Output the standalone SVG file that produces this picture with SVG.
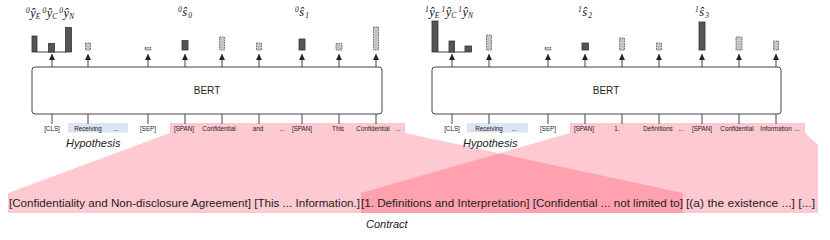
<svg xmlns="http://www.w3.org/2000/svg" width="830" height="240" viewBox="0 0 830 240">
<defs>
<style>
.pink{fill:#ff3654;opacity:0.27}
.lav{fill:#dde4f4}
.box{fill:#fff;stroke:#444;stroke-width:1}
.bert{font-family:"Liberation Sans",Arial,sans-serif;font-size:10px;fill:#222;text-anchor:middle}
.tok{font-family:"Liberation Sans",Arial,sans-serif;font-size:6.3px;fill:#222;text-anchor:middle}
.lbl{font-family:"Liberation Sans",Arial,sans-serif;font-size:11px;font-style:italic;fill:#222}
.ctr{font-family:"Liberation Sans",Arial,sans-serif;font-size:10px;fill:#222}
.math{font-family:"Liberation Serif","Times New Roman",serif;font-style:italic;font-size:12.5px;fill:#111}
.sm{font-size:7.5px}
.tick{stroke:#444;stroke-width:1}
.solid{fill:#555;stroke:#333;stroke-width:0.8}
.dash{fill:#c4c4c4;stroke:#666;stroke-width:0.9;stroke-dasharray:1.6 0.9}
.base{stroke:#444;stroke-width:1}
</style>
<marker id="ah" viewBox="0 0 6 6" refX="6" refY="3" markerWidth="6" markerHeight="6" markerUnits="userSpaceOnUse" orient="auto">
<path d="M0,0 L6,3 L0,6 Z" fill="#222"/>
</marker>
</defs>

<g id="highlights">
<polygon class="pink" points="170,123 405,123 405,133 683,193 683,213 8,213 8,193 170,133"/>
<polygon class="pink" points="570,123 805,123 805,133 818,145 818,213 361,213 361,193 570,133"/>
<rect class="lav" x="68" y="123" width="60" height="9.5"/>
<rect class="lav" x="467" y="123" width="61" height="9.5"/>
</g>

<g id="connectors">
<g class="tick">
<line x1="52" y1="114" x2="52" y2="124"/><line x1="88" y1="114" x2="88" y2="124"/><line x1="148" y1="114" x2="148" y2="124"/><line x1="185" y1="114" x2="185" y2="124"/><line x1="222" y1="114" x2="222" y2="124"/><line x1="259" y1="114" x2="259" y2="124"/><line x1="302" y1="114" x2="302" y2="124"/><line x1="339" y1="114" x2="339" y2="124"/><line x1="376" y1="114" x2="376" y2="124"/>
<line x1="452" y1="114" x2="452" y2="124"/><line x1="489" y1="114" x2="489" y2="124"/><line x1="548" y1="114" x2="548" y2="124"/><line x1="585" y1="114" x2="585" y2="124"/><line x1="622" y1="114" x2="622" y2="124"/><line x1="659" y1="114" x2="659" y2="124"/><line x1="702" y1="114" x2="702" y2="124"/><line x1="739" y1="114" x2="739" y2="124"/><line x1="776" y1="114" x2="776" y2="124"/>
</g>
<g class="tick" marker-end="url(#ah)">
<line x1="52" y1="67" x2="52" y2="54"/><line x1="88" y1="67" x2="88" y2="54"/><line x1="148" y1="67" x2="148" y2="54"/><line x1="185" y1="67" x2="185" y2="54"/><line x1="222" y1="67" x2="222" y2="54"/><line x1="259" y1="67" x2="259" y2="54"/><line x1="302" y1="67" x2="302" y2="54"/><line x1="339" y1="67" x2="339" y2="54"/><line x1="376" y1="67" x2="376" y2="54"/>
<line x1="452" y1="67" x2="452" y2="54"/><line x1="489" y1="67" x2="489" y2="54"/><line x1="548" y1="67" x2="548" y2="54"/><line x1="585" y1="67" x2="585" y2="54"/><line x1="622" y1="67" x2="622" y2="54"/><line x1="659" y1="67" x2="659" y2="54"/><line x1="702" y1="67" x2="702" y2="54"/><line x1="739" y1="67" x2="739" y2="54"/><line x1="776" y1="67" x2="776" y2="54"/>
</g>
</g>

<g id="bert0">
<rect class="box" x="32" y="67" width="350" height="47" rx="3"/>
<text class="bert" x="207" y="93.5">BERT</text>
</g>
<g id="bert1">
<rect class="box" x="432" y="67" width="349" height="47" rx="3"/>
<text class="bert" x="606" y="93.5">BERT</text>
</g>

<g id="outputs0">
<line class="base" x1="37" y1="52" x2="66" y2="52"/>
<rect class="solid" x="32" y="36" width="5" height="16"/>
<rect class="solid" x="48.5" y="43.5" width="6" height="8.5"/>
<rect class="solid" x="65.5" y="27.5" width="6" height="24.5"/>
<rect class="dash" x="85.5" y="43" width="5" height="7"/>
<rect class="dash" x="145" y="47.5" width="6" height="2.5"/>
<rect class="solid" x="182" y="40.5" width="6" height="9.5"/>
<rect class="dash" x="219.5" y="37" width="5" height="13"/>
<rect class="dash" x="256.5" y="43" width="5" height="7"/>
<rect class="solid" x="299" y="39" width="6" height="11"/>
<rect class="dash" x="336" y="43.5" width="6" height="6.5"/>
<rect class="dash" x="373.5" y="27" width="5" height="23"/>
<text class="math" x="26" y="17"><tspan class="sm" dy="-4">0</tspan><tspan dx="0.5" dy="4">ŷ</tspan><tspan class="sm" dy="2">E</tspan><tspan class="sm" dx="2" dy="-6">0</tspan><tspan dx="0.5" dy="4">ŷ</tspan><tspan class="sm" dy="2">C</tspan><tspan class="sm" dx="2" dy="-6">0</tspan><tspan dx="0.5" dy="4">ŷ</tspan><tspan class="sm" dy="2">N</tspan></text>
<text class="math" x="178" y="16"><tspan class="sm" dy="-4">0</tspan><tspan dx="0.5" dy="4">ŝ</tspan><tspan class="sm" dx="1" dy="2">0</tspan></text>
<text class="math" x="295" y="16"><tspan class="sm" dy="-4">0</tspan><tspan dx="0.5" dy="4">ŝ</tspan><tspan class="sm" dx="1" dy="2">1</tspan></text>
</g>

<g id="outputs1">
<line class="base" x1="438" y1="52" x2="465" y2="52"/>
<rect class="solid" x="432" y="21" width="6" height="31"/>
<rect class="solid" x="449" y="41" width="5.5" height="11"/>
<rect class="solid" x="465" y="46" width="6.5" height="6"/>
<rect class="dash" x="486.5" y="35" width="5" height="15"/>
<rect class="dash" x="545" y="47.5" width="6" height="2.5"/>
<rect class="solid" x="582" y="43" width="6.5" height="7"/>
<rect class="dash" x="619.5" y="38" width="5" height="12"/>
<rect class="dash" x="656.5" y="43" width="5" height="7"/>
<rect class="solid" x="699" y="22" width="6" height="28"/>
<rect class="dash" x="736" y="37" width="6" height="13"/>
<rect class="dash" x="773.5" y="41" width="5" height="9"/>
<text class="math" x="425" y="16"><tspan class="sm" dy="-4">1</tspan><tspan dx="0.5" dy="4">ŷ</tspan><tspan class="sm" dy="2">E</tspan><tspan class="sm" dx="2" dy="-6">1</tspan><tspan dx="0.5" dy="4">ŷ</tspan><tspan class="sm" dy="2">C</tspan><tspan class="sm" dx="2" dy="-6">1</tspan><tspan dx="0.5" dy="4">ŷ</tspan><tspan class="sm" dy="2">N</tspan></text>
<text class="math" x="578" y="16"><tspan class="sm" dy="-4">1</tspan><tspan dx="0.5" dy="4">ŝ</tspan><tspan class="sm" dx="1" dy="2">2</tspan></text>
<text class="math" x="695" y="16"><tspan class="sm" dy="-4">1</tspan><tspan dx="0.5" dy="4">ŝ</tspan><tspan class="sm" dx="1" dy="2">3</tspan></text>
</g>

<g id="tokens0">
<text class="tok" x="52" y="130.5">[CLS]</text>
<text class="tok" x="88" y="130.5">Receiving</text>
<text class="tok" x="116" y="130.5">...</text>
<text class="tok" x="148" y="130.5">[SEP]</text>
<text class="tok" x="184" y="130.5">[SPAN]</text>
<text class="tok" x="219" y="130.5">Confidential</text>
<text class="tok" x="258" y="130.5">and</text>
<text class="tok" x="282" y="130.5">...</text>
<text class="tok" x="302" y="130.5">[SPAN]</text>
<text class="tok" x="338" y="130.5">This</text>
<text class="tok" x="373" y="130.5">Confidential</text>
<text class="tok" x="398" y="130.5">...</text>
<text class="lbl" x="66" y="147">Hypothesis</text>
</g>

<g id="tokens1">
<text class="tok" x="452" y="130.5">[CLS]</text>
<text class="tok" x="489" y="130.5">Receiving</text>
<text class="tok" x="514" y="130.5">...</text>
<text class="tok" x="548" y="130.5">[SEP]</text>
<text class="tok" x="584" y="130.5">[SPAN]</text>
<text class="tok" x="617" y="130.5">1.</text>
<text class="tok" x="658" y="130.5">Definitions</text>
<text class="tok" x="681" y="130.5">...</text>
<text class="tok" x="702" y="130.5">[SPAN]</text>
<text class="tok" x="737" y="130.5">Confidential</text>
<text class="tok" x="776" y="130.5">Information</text>
<text class="tok" x="797" y="130.5">...</text>
<text class="lbl" x="463" y="147">Hypothesis</text>
</g>

<g id="contract">
<text class="ctr" x="9" y="207" textLength="351" lengthAdjust="spacingAndGlyphs">[Confidentiality and Non-disclosure Agreement] [This ... Information.]</text>
<text class="ctr" x="361" y="207" textLength="322" lengthAdjust="spacingAndGlyphs">[1. Definitions and Interpretation] [Confidential ...  not limited to]</text>
<text class="ctr" x="686" y="207" textLength="129" lengthAdjust="spacingAndGlyphs">[(a) the existence ...] [...]</text>
<text class="lbl" x="366" y="228" font-size="10.5">Contract</text>
</g>
</svg>
